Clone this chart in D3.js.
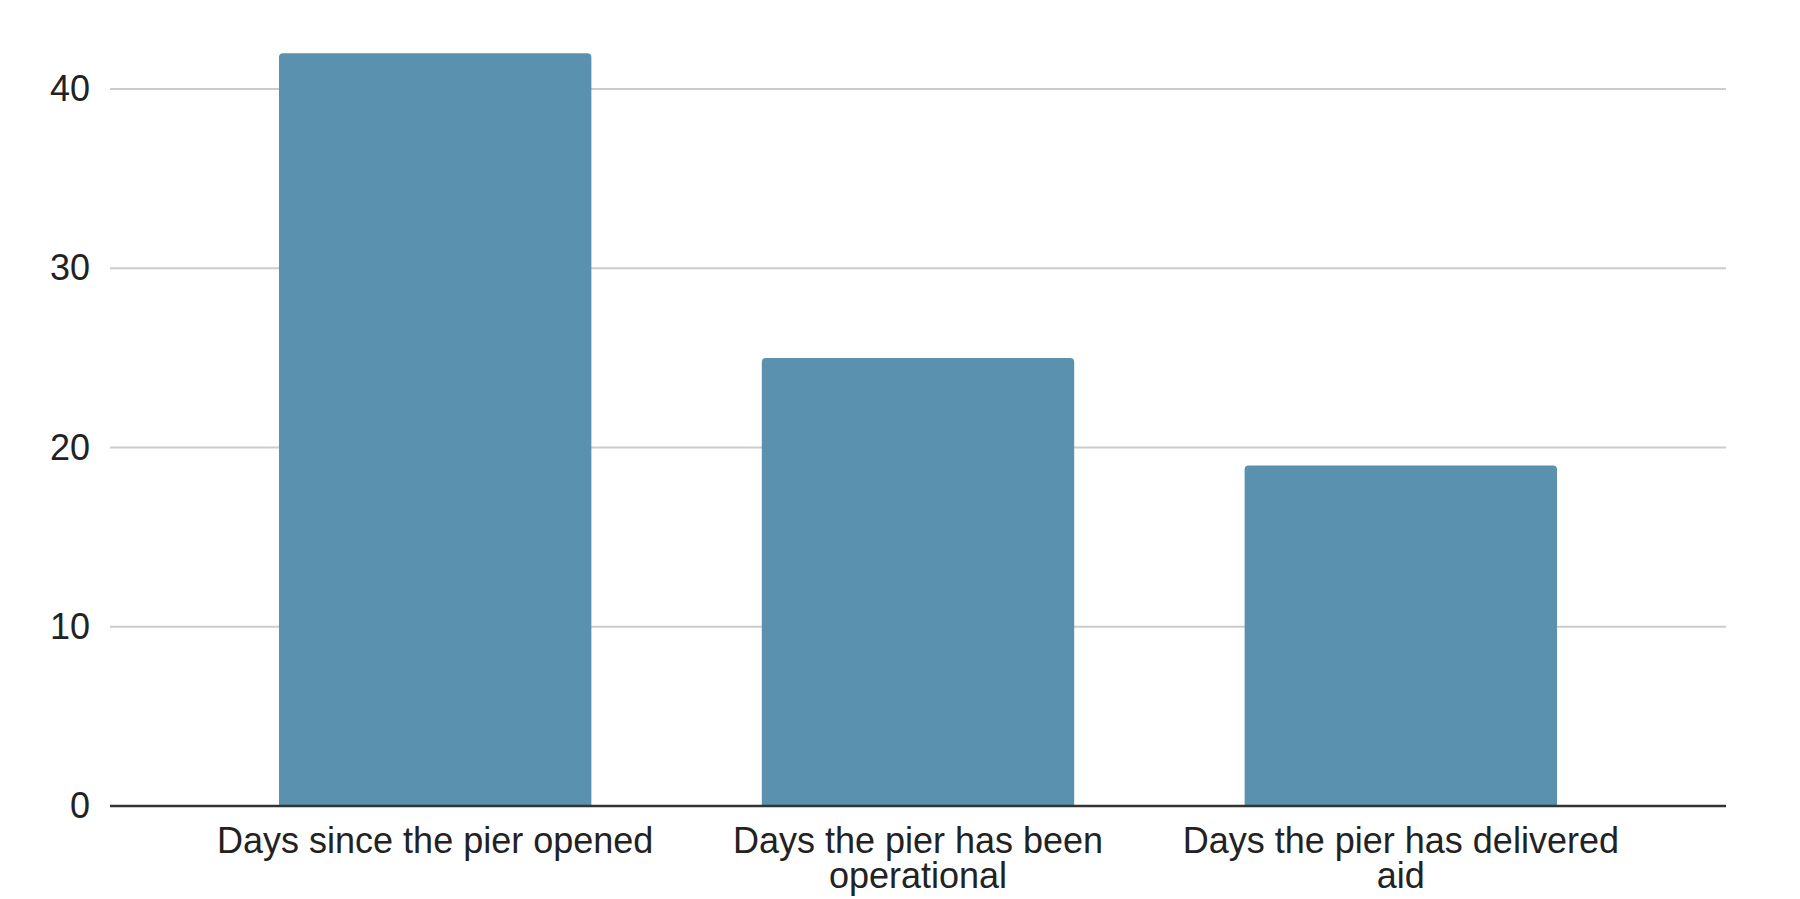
<!DOCTYPE html>
<html>
<head>
<meta charset="utf-8">
<script src="https://d3js.org/d3.v7.min.js"></script>
<style>
  html, body { margin: 0; padding: 0; background: #ffffff; }
  svg { display: block; }
</style>
</head>
<body>
<div id="chart"></div>
<script>
// Pier days bar chart
const categories = [
    'Days since the pier opened',
    'Days the pier has been operational',
    'Days the pier has delivered aid'
];
const dayCounts = [42, 25, 19];
const yTicks = [0, 10, 20, 30, 40];

const width = 1800;
const height = 899;
const margin = { left: 110, right: 74, zero: 806, top: 89 };
const barColor = '#5a91ae';
const fontFamily = '"Liberation Sans", Arial, Helvetica, sans-serif';

const data = categories.map((name, i) => ({ name, value: dayCounts[i] }));

const svg = d3.select('#chart').append('svg')
    .attr('width', width)
    .attr('height', height)
    .attr('viewBox', [0, 0, width, height]);

const x = d3.scaleBand()
    .domain(categories)
    .range([margin.left, width - margin.right])
    .paddingInner(0.353)
    .paddingOuter(0.35);

// 40 sits on margin.top, 0 on the axis line
const y = d3.scaleLinear()
    .domain([0, 40])
    .range([margin.zero, margin.top]);

// Gridlines
svg.append('g')
    .selectAll('line')
    .data(yTicks.filter(d => d !== 0))
    .join('line')
    .attr('x1', margin.left)
    .attr('x2', width - margin.right)
    .attr('y1', d => y(d))
    .attr('y2', d => y(d))
    .attr('stroke', '#cccccc')
    .attr('stroke-width', 2);

// Bars with slightly rounded top corners
const r = 4;
svg.append('g')
    .selectAll('path')
    .data(data)
    .join('path')
    .attr('fill', barColor)
    .attr('d', d => {
        const x0 = x(d.name);
        const x1 = x0 + x.bandwidth();
        const y0 = y(0);
        const y1 = y(d.value);
        return `M${x0},${y0} L${x0},${y1 + r} Q${x0},${y1} ${x0 + r},${y1}` +
               ` L${x1 - r},${y1} Q${x1},${y1} ${x1},${y1 + r} L${x1},${y0} Z`;
    });

// Baseline
svg.append('line')
    .attr('x1', margin.left)
    .attr('x2', width - margin.right)
    .attr('y1', y(0))
    .attr('y2', y(0))
    .attr('stroke', '#333333')
    .attr('stroke-width', 2.5);

// Y axis labels
const yAxis = d3.axisLeft(y).tickValues(yTicks).tickSize(0).tickPadding(20);
const yg = svg.append('g')
    .attr('transform', `translate(${margin.left},0)`)
    .call(yAxis);
yg.select('.domain').remove();
yg.selectAll('text')
    .style('font-family', fontFamily)
    .style('font-size', '36px')
    .attr('fill', '#222222');

// X axis labels
const xAxis = d3.axisBottom(x).tickSize(0).tickPadding(0);
const xg = svg.append('g')
    .attr('transform', `translate(0,${y(0)})`)
    .call(xAxis);
xg.select('.domain').remove();
xg.selectAll('text')
    .style('font-family', fontFamily)
    .style('font-size', '36px')
    .attr('fill', '#222222')
    .attr('y', 47)
    .attr('dy', 0)
    .call(wrap, x.step() - 10);

function wrap(texts, maxWidth) {
    texts.each(function() {
        const text = d3.select(this);
        const words = text.text().split(/\s+/);
        const yPos = text.attr('y');
        text.text(null);
        let line = [];
        let lineNo = 0;
        let tspan = text.append('tspan').attr('x', 0).attr('y', yPos);
        words.forEach(word => {
            line.push(word);
            tspan.text(line.join(' '));
            if (tspan.node().getComputedTextLength() > maxWidth && line.length > 1) {
                line.pop();
                tspan.text(line.join(' '));
                line = [word];
                lineNo++;
                tspan = text.append('tspan')
                    .attr('x', 0)
                    .attr('y', +yPos + lineNo * 35)
                    .text(word);
            }
        });
    });
}
</script>
</body>
</html>
